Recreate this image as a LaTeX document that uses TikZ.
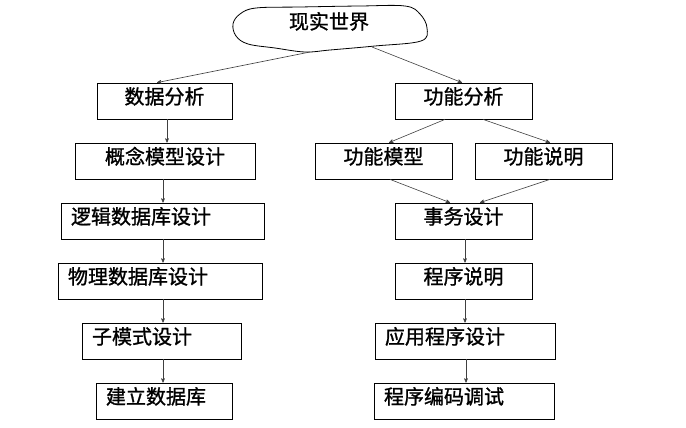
\documentclass[tikz,border=0pt]{standalone}
\usepackage{fontspec}
\newfontfamily\cjk[FakeBold=1.2]{Noto Sans CJK SC}
\usetikzlibrary{shapes,positioning,arrows,calc}

\begin{document}
\begin{tikzpicture}[x=1pt,y=-1pt,
        box/.style={draw,line width=0.8pt,minimum height=36pt,inner xsep=10pt,inner ysep=0pt,
            text height=16pt,text depth=10pt,font=\cjk\fontsize{20}{24}\selectfont},
        arr/.style={->,>=stealth',draw=black!75,line width=0.6pt}]
        \useasboundingbox (0,0) rectangle (686,428);
        % the cloud
        \draw[line width=0.8pt] plot[smooth cycle,tension=0.6] coordinates {
            (233,24) (240,14) (256,8) (300,7) (360,6) (405,6) (420,14) (427,28)
            (421,41) (375,46) (330,50) (305,52) (275,48) (248,44) (236,36)};
        \node[font=\cjk\fontsize{20}{24}\selectfont,anchor=base] (world) at (329,29) {现实世界};
        \coordinate (wl) at (310,52);
        \coordinate (wr) at (372,47);
        % left column
        \node[box,text width=115pt,align=center] (sjfx) at (164.5,101) {数据分析};
        \node[box,text width=160pt,align=center] (gnmx) at (165,161) {概念模型设计};
        \node[box,text width=183pt,align=left] (ljsj) at (162.5,221) {逻辑数据库设计};
        \node[box,text width=184pt,align=left] (wlsj) at (160,281) {物理数据库设计};
        \node[box,text width=139pt,align=left] (zmssj) at (161.5,341) {子模式设计};
        \node[box,text width=116pt,align=left] (jlsjk) at (164,401) {建立数据库};
        % right column
        \node[box,text width=117pt,align=center] (gnfx) at (463.5,101) {功能分析};
        \node[box,text width=117pt,align=center] (gnmod) at (383.5,161) {功能模型};
        \node[box,text width=117pt,align=center] (gnsm) at (543.5,161) {功能说明};
        \node[box,text width=117pt,align=center] (swsj) at (463.5,221) {事务设计};
        \node[box,text width=117pt,align=center] (cxsm) at (463.5,281) {程序说明};
        \node[box,text width=160pt,align=left] (yysj) at (465,341) {应用程序设计};
        \node[box,text width=160pt,align=left] (bmts) at (464,401) {程序编码调试};
        % connectors
        \draw[arr] (wl) -- ([xshift=-7.5pt]sjfx.north);
        \draw[arr] (wr) -- ([xshift=-1.5pt]gnfx.north);
        \draw[arr] ([xshift=2.5pt]sjfx.south) -- ([xshift=2.5pt]sjfx.south |- gnmx.north);
        \draw[arr] ([xshift=-2pt]gnmx.south) -- ([xshift=-2pt]gnmx.south |- ljsj.north);
        \draw[arr] ([xshift=-2pt]gnmx.south |- ljsj.south) -- ([xshift=-2pt]gnmx.south |- wlsj.north);
        \draw[arr] ([xshift=-2pt]gnmx.south |- wlsj.south) -- ([xshift=-2pt]gnmx.south |- zmssj.north);
        \draw[arr] ([xshift=-2pt]gnmx.south |- zmssj.south) -- ([xshift=-2pt]gnmx.south |- jlsjk.north);
        \draw[arr] ([xshift=-18.5pt]gnfx.south) -- ([xshift=5.5pt]gnmod.north);
        \draw[arr] ([xshift=19.5pt]gnfx.south) -- ([xshift=6.5pt]gnsm.north);
        \draw[arr] ([xshift=6.5pt]gnmod.south) -- ([xshift=-13.5pt]swsj.north);
        \draw[arr] ([xshift=6.5pt]gnsm.south) -- ([xshift=16.5pt]swsj.north);
        \draw[arr] ([xshift=1.5pt]swsj.south) -- ([xshift=1.5pt]swsj.south |- cxsm.north);
        \draw[arr] ([xshift=1.5pt]cxsm.south) -- ([xshift=1.5pt]cxsm.south |- yysj.north);
        \draw[arr] ([xshift=2.5pt]cxsm.south |- yysj.south) -- ([xshift=2.5pt]cxsm.south |- bmts.north);
    \end{tikzpicture}
\end{document}
